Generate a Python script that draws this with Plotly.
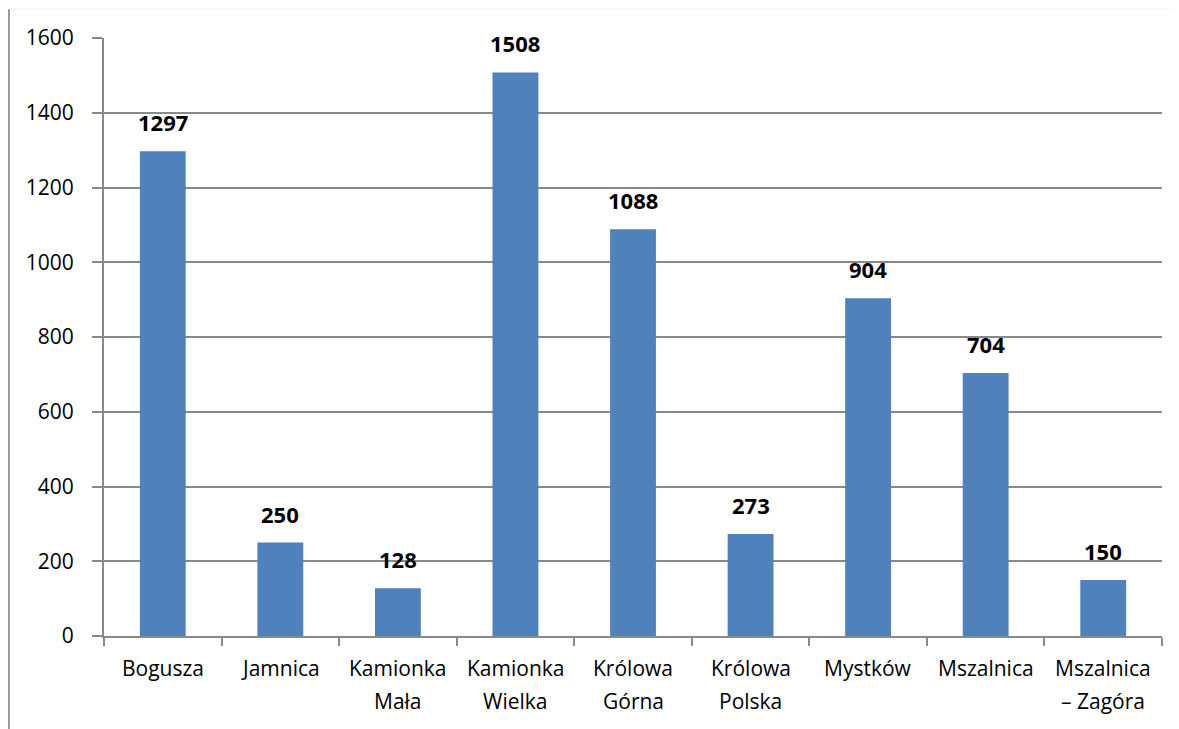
import plotly.graph_objects as go

categories = ["Bogusza", "Jamnica", "Kamionka<br>Mała", "Kamionka<br>Wielka", "Królowa<br>Górna",
              "Królowa<br>Polska", "Mystków", "Mszalnica", "Mszalnica<br>– Zagóra"]
values = [1297, 250, 128, 1508, 1088, 273, 904, 704, 150]
y_ticks = [0, 200, 400, 600, 800, 1000, 1200, 1400, 1600]

FONT = "'Open Sans', sans-serif"
GRID = "#898989"

W, H = 1171, 721
L, R, T, B = 96, 17, 30, 93
PW, PH = W - L - R, H - T - B

fig = go.Figure()
fig.add_trace(go.Bar(x=categories, y=values, marker_color="#4F81BD", marker_line_width=0))

for c, v in zip(categories, values):
    fig.add_annotation(x=c, y=v, text=f"<b>{v}</b>", showarrow=False, yanchor="bottom",
                       yshift=12, font=dict(size=22, color="black", family=FONT))

for c in categories:
    for i, line in enumerate(c.split("<br>")):
        fig.add_annotation(x=c, xref="x", y=0, yref="paper", text=line, showarrow=False,
                           yanchor="middle", yshift=-32 - 33 * i,
                           font=dict(size=21, color="black", family=FONT))

fig.update_layout(
    width=W, height=H,
    margin=dict(l=L, r=R, t=T, b=B),
    plot_bgcolor="white", paper_bgcolor="white",
    bargap=0.61, showlegend=False,
    font=dict(family=FONT, size=21, color="black"),
)
fig.update_yaxes(range=[0, 1600], tickvals=y_ticks, showgrid=True, gridcolor=GRID, gridwidth=2,
                 showline=True, linecolor=GRID, linewidth=2, ticks="outside", ticklen=10,
                 tickcolor=GRID, tickwidth=2, ticklabelstandoff=14, zeroline=False,
                 tickfont=dict(size=21))
fig.update_xaxes(showline=True, linecolor=GRID, linewidth=2, ticks="outside", ticklen=8,
                 tickcolor=GRID, tickwidth=2, tickson="boundaries", showticklabels=False)

fig.add_shape(type="line", xref="paper", yref="paper", x0=-(L - 1) / PW, x1=-(L - 1) / PW,
              y0=-B / PH, y1=(PH + T - 1) / PH, line=dict(color="#9a9a9a", width=2))
fig.add_shape(type="line", xref="paper", yref="paper", x0=-(L - 1) / PW, x1=(PW + R) / PW,
              y0=(PH + T - 1) / PH, y1=(PH + T - 1) / PH, line=dict(color="#f0f0f0", width=1))

fig.write_html("out.html")
